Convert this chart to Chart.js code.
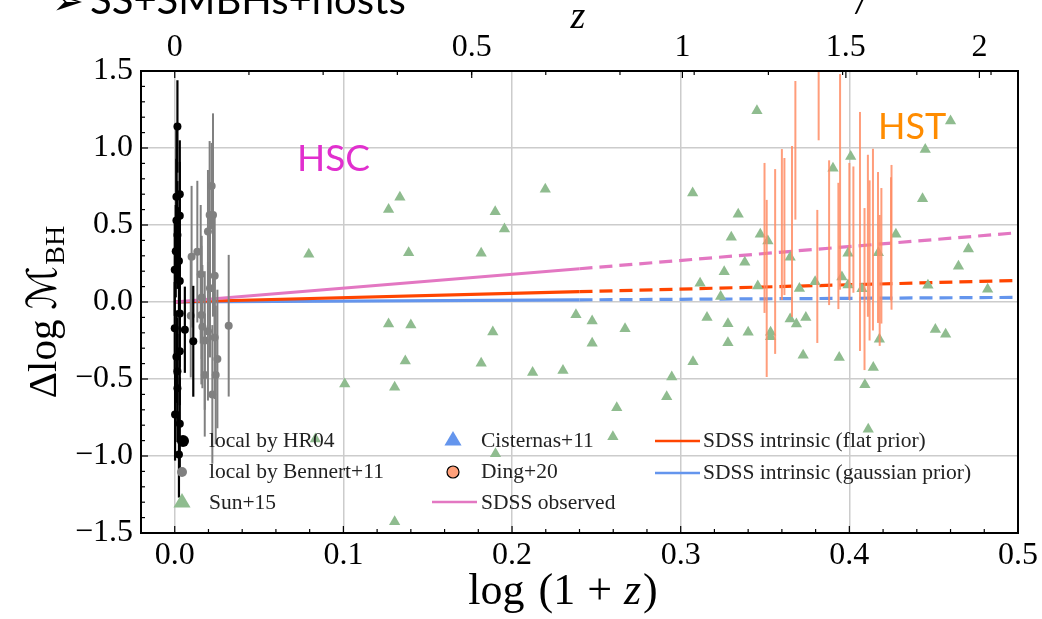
<!DOCTYPE html>
<html>
<head>
<meta charset="utf-8">
<script src="https://cdn.jsdelivr.net/npm/chart.js@4.4.1/dist/chart.umd.min.js"></script>
<style>
  body { margin: 0; background: #fff; }
  canvas { display: block; }
</style>
</head>
<body>
<canvas id="c" width="1042" height="619"></canvas>
<script>
// local sample, HR04
var hrX   = [0.0016, 0.003, 0.001, 0.003, 0.001, 0.0016, 0.0006, 0.0025, 0.0, 0.003, 0.006, 0.011, 0.003, 0.0, 0.003, 0.001, 0.0016, 0.0016, 0.0002, 0.003, 0.0025];
var hrY   = [1.14, 0.70, 0.684, 0.56, 0.53, 0.435, 0.33, 0.266, 0.21, 0.136, -0.18, -0.255, -0.074, -0.17, -0.32, -0.355, -0.45, -0.56, -0.73, -0.79, -0.99];
var hrErr = [0.30, 0.35, 0.45, 0.35, 0.40, 0.35, 0.30, 0.35, 0.30, 0.35, 0.28, 0.36, 0.35, 0.30, 0.35, 0.30, 0.35, 0.35, 0.30, 0.30, 0.28];

// local sample, Bennert+11
var benX   = [0.010, 0.0134, 0.0154, 0.0207, 0.0227, 0.0197, 0.0219, 0.0237, 0.0209, 0.016, 0.032, 0.0095, 0.0158, 0.0164, 0.0197, 0.0178, 0.0178, 0.0243, 0.0223, 0.0253, 0.0237];
var benY   = [0.294, 0.327, 0.18, 0.565, 0.565, 0.457, 0.753, 0.17, 0.09, 0.03, -0.154, -0.09, -0.085, -0.16, -0.19, -0.25, -0.474, -0.474, -0.60, -0.37, -0.23];
var benErr = [0.46, 0.46, 0.45, 0.48, 0.66, 0.40, 0.28, 0.40, 0.45, 0.40, 0.46, 0.40, 0.45, 0.40, 0.45, 0.45, 0.40, 0.45, 0.45, 0.45, 0.40];

// Sun+15
var sunX = [0.0795, 0.1268, 0.1335, 0.1387, 0.1268, 0.140, 0.1367, 0.1008, 0.1304, 0.0834, 0.1304,
            0.1817, 0.190, 0.1955, 0.2197, 0.3071, 0.3115, 0.3237, 0.1886, 0.1817, 0.2122, 0.2302,
            0.2379, 0.2475, 0.2475, 0.267, 0.2621, 0.2598, 0.1902, 0.2947, 0.2917, 0.3073, 0.3156,
            0.3452, 0.3341, 0.330, 0.3472, 0.3517, 0.338, 0.3258, 0.3457, 0.3649, 0.3704, 0.3797,
            0.3903, 0.3956, 0.3992, 0.3992, 0.4008, 0.4075, 0.4172, 0.4276, 0.4434, 0.445, 0.460,
            0.4706, 0.4647, 0.4466, 0.482, 0.328, 0.328, 0.340, 0.3533, 0.3533, 0.3649, 0.3686,
            0.3742, 0.3726, 0.394, 0.4178, 0.4142, 0.4092, 0.4112, 0.451, 0.4571];
var sunY = [0.31, 0.60, 0.68, 0.32, -0.143, -0.149, -0.383, -0.532, -0.554, -0.89, -1.427,
            0.316, 0.586, 0.474, 0.732, 0.708, 0.121, 0.035, -0.195, -0.398, -0.457, -0.444,
            -0.082, -0.123, -0.268, -0.173, -0.686, -0.875, -0.985, -0.487, -0.615, -0.388, -0.10,
            1.242, 0.569, 0.42, 0.44, 0.396, 0.258, 0.197, 0.104, 0.29, 0.087, 0.132,
            0.868, 0.162, 0.316, 0.11, 0.944, 0.086, 0.32, 0.44, 0.671, 0.99, 1.175,
            0.344, 0.232, 0.108, 0.082, -0.141, -0.264, -0.197, -0.197, -0.225, -0.11, -0.143,
            -0.10, -0.346, -0.361, -0.242, -0.426, -0.537, -0.826, -0.178, -0.21];

// Ding+20
var dingX   = [0.3497, 0.351, 0.356, 0.360, 0.3615, 0.366, 0.368, 0.381, 0.3818, 0.388, 0.3935, 0.3945,
               0.400, 0.4024, 0.4063, 0.409, 0.411, 0.412, 0.414, 0.417, 0.418, 0.419, 0.425, 0.4247];
var dingY   = [0.416, 0.088, 0.263, 0.503, 0.49, 0.458, 0.985, 0.166, 1.295, 0.45, 0.364, 0.78,
               0.458, 0.47, 0.458, 0.084, 0.43, 0.27, 0.405, 0.354, 0.14, 0.30, 0.42, 0.41];
var dingErr = [0.487, 0.575, 0.60, 0.49, 0.445, 0.555, 0.45, 0.432, 0.245, 0.47, 0.41, 0.70,
               0.445, 0.41, 0.776, 0.526, 0.526, 0.52, 0.59, 0.49, 0.425, 0.44, 0.47, 0.40];

// SDSS relations: solid over the sampled range, dashed beyond
var lineX  = [0, 0.24, 0.5];
var obsY   = [0, 0.216, 0.45];
var flatY  = [0, 0.067, 0.14];
var gaussY = [0, 0.014, 0.03];

var xTicks = [0, 0.1, 0.2, 0.3, 0.4, 0.5];
var zTicks = [0, 0.5, 1, 1.5, 2];

function pts(xs, ys) {
  return xs.map(function (v, i) { return {x: v, y: ys[i]}; });
}

function fmt(v) {
  return v.toFixed(1).replace('-', '\u2212');
}

var SERIF = "'Liberation Serif', 'DejaVu Serif', serif";

// vertical error bars, drawn under each dataset's markers
var errorBars = {
  id: 'errorBars',
  beforeDatasetDraw: function (chart, args) {
    var ds = chart.data.datasets[args.index];
    if (!ds.errors) return;
    var ctx = chart.ctx, a = chart.chartArea;
    var sx = chart.scales.x, sy = chart.scales.y;
    ctx.save();
    ctx.beginPath();
    ctx.rect(a.left, a.top, a.right - a.left, a.bottom - a.top);
    ctx.clip();
    ctx.strokeStyle = ds.errColor;
    ctx.lineWidth = ds.errWidth;
    ds.data.forEach(function (p, i) {
      var px = sx.getPixelForValue(p.x);
      ctx.beginPath();
      ctx.moveTo(px, sy.getPixelForValue(p.y - ds.errors[i]));
      ctx.lineTo(px, sy.getPixelForValue(p.y + ds.errors[i]));
      ctx.stroke();
    });
    ctx.restore();
  }
};

// frame, inward ticks, axis titles, legend and labels
var decorations = {
  id: 'decorations',
  afterDraw: function (chart) {
    var ctx = chart.ctx, a = chart.chartArea;
    var sx = chart.scales.x, sy = chart.scales.y;
    ctx.save();

    ctx.strokeStyle = '#000';
    ctx.lineWidth = 1.2;
    function vtick(px, y0, len) { ctx.beginPath(); ctx.moveTo(px, y0); ctx.lineTo(px, y0 + len); ctx.stroke(); }
    function htick(py, x0, len) { ctx.beginPath(); ctx.moveTo(x0, py); ctx.lineTo(x0 + len, py); ctx.stroke(); }
    var i;
    // bottom
    for (i = -1; i <= 25; i++) {
      vtick(sx.getPixelForValue(i * 0.02), a.bottom, i % 5 === 0 ? -7 : -4);
    }
    // top: z majors plus evenly spaced minors
    zTicks.forEach(function (z) { vtick(sx.getPixelForValue(Math.log10(1 + z)), a.top, 7); });
    for (i = 1; i <= 11; i++) vtick(sx.getPixelForValue(i * 0.044), a.top, 4);
    // left
    for (i = -15; i <= 15; i++) {
      htick(sy.getPixelForValue(i * 0.1), a.left, i % 5 === 0 ? 7 : 4);
    }

    ctx.lineWidth = 2;
    ctx.strokeRect(a.left, a.top, a.right - a.left, a.bottom - a.top);

    // x title
    ctx.fillStyle = '#000';
    ctx.textBaseline = 'alphabetic';
    var base = 604, f = 44;
    var parts = [
      {t: 'log', font: f + 'px ' + SERIF, gap: 14},
      {t: '(1', font: f + 'px ' + SERIF, gap: 12},
      {t: '+', font: f + 'px ' + SERIF, gap: 12},
      {t: 'z', font: 'italic ' + f + 'px ' + SERIF, gap: 2},
      {t: ')', font: f + 'px ' + SERIF, gap: 0}
    ];
    var total = 0;
    parts.forEach(function (p) { ctx.font = p.font; p.w = ctx.measureText(p.t).width; total += p.w + p.gap; });
    var cx = 563 - total / 2;
    ctx.textAlign = 'left';
    parts.forEach(function (p) { ctx.font = p.font; ctx.fillText(p.t, cx, base); cx += p.w + p.gap; });

    // top title
    ctx.font = 'italic 38px ' + SERIF;
    ctx.textAlign = 'center';
    ctx.fillText('z', 578, 28);

    // y title
    ctx.save();
    ctx.translate(56, 312);
    ctx.rotate(-Math.PI / 2);
    ctx.textAlign = 'left';
    var yp = [
      {t: '\u0394log', font: '41px ' + SERIF, gap: 10, dy: 0},
      {t: '\u2133', font: "41px 'DejaVu Sans', " + SERIF, gap: 1, dy: 0},
      {t: 'BH', font: '28px ' + SERIF, gap: 0, dy: 8}
    ];
    total = 0;
    yp.forEach(function (p) { ctx.font = p.font; p.w = ctx.measureText(p.t).width; total += p.w + p.gap; });
    cx = -total / 2;
    yp.forEach(function (p) { ctx.font = p.font; ctx.fillText(p.t, cx, p.dy); cx += p.w + p.gap; });
    ctx.restore();

    // legend
    ctx.font = '21.5px ' + SERIF;
    ctx.textAlign = 'left';
    ctx.textBaseline = 'middle';
    function circle(x, y, r, fill, stroke) {
      ctx.beginPath(); ctx.arc(x, y, r, 0, Math.PI * 2);
      ctx.fillStyle = fill; ctx.fill();
      if (stroke) { ctx.lineWidth = 1.2; ctx.strokeStyle = stroke; ctx.stroke(); }
    }
    function tri(x, y, r, fill) {
      ctx.beginPath();
      ctx.moveTo(x, y - r);
      ctx.lineTo(x + r * 0.95, y + r * 0.62);
      ctx.lineTo(x - r * 0.95, y + r * 0.62);
      ctx.closePath();
      ctx.fillStyle = fill; ctx.fill();
    }
    function seg(x0, x1, y, color) {
      ctx.beginPath(); ctx.moveTo(x0, y); ctx.lineTo(x1, y);
      ctx.strokeStyle = color; ctx.lineWidth = 2.5; ctx.stroke();
    }
    circle(183, 441, 6, '#000');
    circle(182, 472, 5, '#808080');
    tri(182, 502, 9, '#8fbc8f');
    tri(453, 440, 9, '#6495ed');
    circle(453, 472, 6, '#ffa07a', '#000');
    seg(432, 477, 502, '#e377c2');
    seg(655, 700, 441, '#ff4500');
    seg(655, 700, 473, '#6495ed');
    ctx.fillStyle = '#222';
    var rows = [
      ['local by HR04', 209, 441], ['local by Bennert+11', 209, 472], ['Sun+15', 209, 503],
      ['Cisternas+11', 481, 441], ['Ding+20', 481, 472], ['SDSS observed', 481, 503],
      ['SDSS intrinsic (flat prior)', 703, 441], ['SDSS intrinsic (gaussian prior)', 703, 473]
    ];
    rows.forEach(function (r) { ctx.fillText(r[0], r[1], r[2]); });

    // sample labels
    ctx.textBaseline = 'alphabetic';
    ctx.font = "37px Lato, 'Noto Sans', sans-serif";
    ctx.fillStyle = '#e12fce';
    ctx.fillText('HSC', 297, 171);
    ctx.fillStyle = '#ff8c00';
    ctx.font = "36px Lato, 'Noto Sans', sans-serif";
    ctx.fillText('HST', 878, 139);

    // heading, mostly cut off by the page edge
    ctx.fillStyle = '#000';
    ctx.font = "38px 'DejaVu Sans', sans-serif";
    ctx.fillText('\u27a2', 52, 14);
    ctx.font = "40px Lato, 'Noto Sans', sans-serif";
    ctx.fillText('SS+SMBHs+hosts', 90, 14);
    ctx.font = "italic 30px Lato, sans-serif";
    ctx.fillText('/', 855, 12);

    ctx.restore();
  }
};

var gridStyle = { color: '#cccccc', lineWidth: 1.5, drawTicks: false };
var dashAfterFirst = { borderDash: function (c) { return c.p0DataIndex >= 1 ? [13, 7] : undefined; } };

new Chart(document.getElementById('c'), {
  type: 'scatter',
  data: {
    datasets: [
      { label: 'local by HR04', data: pts(hrX, hrY), errors: hrErr, errColor: '#000', errWidth: 2.2,
        backgroundColor: '#000', pointRadius: 4, borderWidth: 0 },
      { label: 'local by Bennert+11', data: pts(benX, benY), errors: benErr, errColor: '#808080', errWidth: 2,
        backgroundColor: '#808080', pointRadius: 4, borderWidth: 0 },
      { label: 'Ding+20', data: pts(dingX, dingY), errors: dingErr, errColor: 'rgba(255,140,100,0.85)', errWidth: 2,
        backgroundColor: '#ffa07a', pointRadius: 0 },
      { label: 'Sun+15', data: pts(sunX, sunY), pointStyle: 'triangle',
        backgroundColor: '#8fbc8f', borderWidth: 0, pointRadius: 6.5 },
      { type: 'line', label: 'SDSS observed', data: pts(lineX, obsY), borderColor: '#e377c2',
        borderWidth: 3.2, pointRadius: 0, fill: false, segment: dashAfterFirst },
      { type: 'line', label: 'SDSS intrinsic (flat prior)', data: pts(lineX, flatY), borderColor: '#ff4500',
        borderWidth: 3.2, pointRadius: 0, fill: false, segment: dashAfterFirst },
      { type: 'line', label: 'SDSS intrinsic (gaussian prior)', data: pts(lineX, gaussY), borderColor: '#6495ed',
        borderWidth: 3.2, pointRadius: 0, fill: false, segment: dashAfterFirst }
    ]
  },
  options: {
    responsive: false,
    animation: false,
    events: [],
    layout: { padding: { left: 0, right: 24, top: 0, bottom: 0 } },
    plugins: { legend: { display: false }, tooltip: { enabled: false } },
    scales: {
      x: {
        type: 'linear', position: 'bottom', min: -0.02, max: 0.5,
        grid: gridStyle, border: { display: false },
        afterBuildTicks: function (s) { s.ticks = xTicks.map(function (v) { return {value: v}; }); },
        afterFit: function (s) { s.height = 86; },
        ticks: { autoSkip: false, maxRotation: 0, padding: 3, color: '#000',
                 font: { family: SERIF, size: 32 }, callback: function (v) { return fmt(v); } }
      },
      x2: {
        type: 'linear', axis: 'x', position: 'top', min: -0.02, max: 0.5,
        grid: { display: false, drawTicks: false }, border: { display: false },
        afterBuildTicks: function (s) { s.ticks = zTicks.map(function (z) { return {value: Math.log10(1 + z)}; }); },
        afterFit: function (s) { s.height = 71; },
        ticks: { autoSkip: false, maxRotation: 0, padding: 4, color: '#000',
                 font: { family: SERIF, size: 32 },
                 callback: function (v) { return String(Math.round((Math.pow(10, v) - 1) * 10) / 10); } }
      },
      y: {
        type: 'linear', min: -1.5, max: 1.5,
        grid: gridStyle, border: { display: false },
        afterFit: function (s) { s.width = 141; },
        ticks: { stepSize: 0.5, padding: 8, color: '#000',
                 font: { family: SERIF, size: 32 }, callback: function (v) { return fmt(v); } }
      }
    }
  },
  plugins: [errorBars, decorations]
});
</script>
</body>
</html>
